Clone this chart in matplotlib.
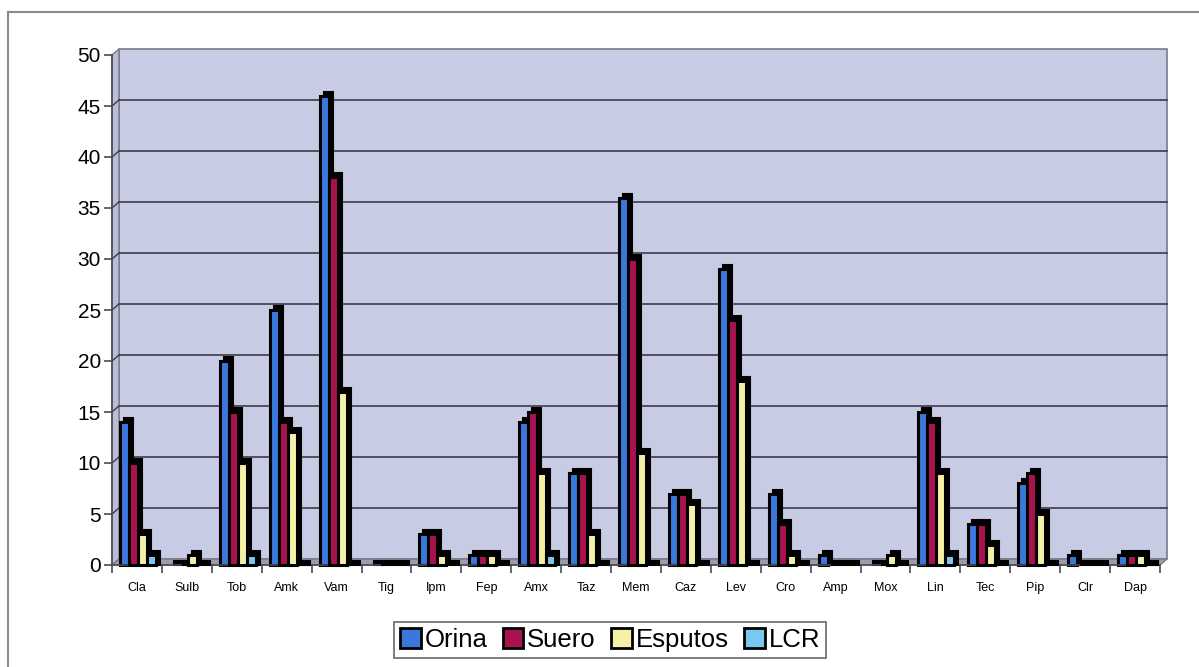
import numpy as np
import matplotlib
matplotlib.use("Agg")
import matplotlib.pyplot as plt
from matplotlib.patches import Rectangle, Polygon
from matplotlib.lines import Line2D
from matplotlib.transforms import IdentityTransform

plt.rcParams['font.family'] = ['Liberation Sans', 'DejaVu Sans']

# antibiotics on the x axis
categories = ["Cla", "Sulb", "Tob", "Amk", "Vam", "Tig", "Ipm", "Fep", "Amx", "Taz", "Mem",
              "Caz", "Lev", "Cro", "Amp", "Mox", "Lin", "Tec", "Pip", "Clr", "Dap"]

orina   = [14, 0, 20, 25, 46, 0, 3, 1, 14, 9, 36, 7, 29, 7, 1, 0, 15, 4, 8, 1, 1]
suero   = [10, 0, 15, 14, 38, 0, 3, 1, 15, 9, 30, 7, 24, 4, 0, 0, 14, 4, 9, 0, 1]
esputos = [3, 1, 10, 13, 17, 0, 1, 1, 9, 3, 11, 6, 18, 1, 0, 1, 9, 2, 5, 0, 1]
lcr     = [1, 0, 1, 0, 0, 0, 0, 0, 1, 0, 0, 0, 0, 0, 0, 0, 1, 0, 0, 0, 0]

series_names = ["Orina", "Suero", "Esputos", "LCR"]
series_vals = [orina, suero, esputos, lcr]
colors = ["#3a78dc", "#a8124e", "#f4f0a8", "#78c8f0"]

W, H = 1199, 667
fig = plt.figure(figsize=(W / 100, H / 100), dpi=100)

# front frame of the plot, in pixels (from top-left)
x0, x1 = 112, 1160
ytop, ybot = 55, 565
ax = fig.add_axes([x0 / W, (H - ybot) / H, (x1 - x0) / W, (ybot - ytop) / H])
ax.set_facecolor("none")
ax.set_xlim(-0.5, len(categories) - 0.5)
ax.set_ylim(0, 50)

dx, dy = 7, 6   # depth of the 3d walls, pixels
ident = IdentityTransform()
bx0, bx1 = x0, x1
by0, by1 = H - ybot, H - ytop
wall_col = "#c7cbe3"

# back wall
ax.add_patch(Polygon([(bx0 + dx, by0 + dy), (bx1 + dx, by0 + dy), (bx1 + dx, by1 + dy), (bx0 + dx, by1 + dy)],
                     closed=True, transform=ident, facecolor=wall_col, edgecolor="#7a7a88",
                     lw=1.2, clip_on=False, zorder=0))
# side wall
ax.add_patch(Polygon([(bx0, by0), (bx0 + dx, by0 + dy), (bx0 + dx, by1 + dy), (bx0, by1)],
                     closed=True, transform=ident, facecolor="#b9bdd6", edgecolor="#7a7a88",
                     lw=1.0, clip_on=False, zorder=0.1))
# floor
ax.add_patch(Polygon([(bx0, by0), (bx1, by0), (bx1 + dx, by0 + dy), (bx0 + dx, by0 + dy)],
                     closed=True, transform=ident, facecolor="#9c9caa", edgecolor="#7a7a88",
                     lw=1.0, clip_on=False, zorder=0.1))

# gridlines on back wall
for yv in range(5, 50, 5):
    py = by0 + (by1 - by0) * yv / 50 + dy
    ax.add_line(Line2D([bx0 + dx, bx1 + dx], [py, py], transform=ident, color="#3c3c4a",
                       lw=1.2, clip_on=False, zorder=0.2))
    ax.add_line(Line2D([bx0, bx0 + dx], [py - dy, py], transform=ident, color="#3c3c4a",
                       lw=1.0, clip_on=False, zorder=0.2))

x = np.arange(len(categories))
bw = 0.18
start = -0.5 + 0.16
sx = 4 / 49.9      # shadow offset in category units
sy = 4 / 10.2      # shadow offset in value units
for j, (vals, c) in enumerate(zip(series_vals, colors)):
    left = x + start + j * bw
    for xi, v in zip(left, vals):
        ax.add_patch(Rectangle((xi + sx, 0), bw, v + sy, facecolor="black", edgecolor="black",
                               lw=1.5, zorder=2 + j, clip_on=False))
        if v > 0:
            ax.add_patch(Rectangle((xi, 0), bw, v, facecolor=c, edgecolor="black",
                                   lw=2.2, zorder=2 + j + 0.5, clip_on=False))

for s in ["top", "right"]:
    ax.spines[s].set_visible(False)
ax.spines["left"].set_color("#4a4a58")
ax.spines["bottom"].set_color("#4a4a58")
ax.spines["left"].set_linewidth(1.2)
ax.spines["bottom"].set_linewidth(1.2)

ax.set_yticks(range(0, 51, 5))
ax.tick_params(axis="y", labelsize=15, length=6, width=1.2, color="#4a4a58", pad=2)
ax.set_xticks(np.arange(-0.5, len(categories), 1.0))
ax.set_xticklabels([])
ax.tick_params(axis="x", which="major", length=6, width=1.2, color="#4a4a58")
ax.set_xticks(x, minor=True)
ax.set_xticklabels(categories, minor=True, fontsize=9)
ax.tick_params(axis="x", which="minor", length=0, pad=12)

handles = [Rectangle((0, 0), 1, 1, facecolor=c, edgecolor="black", lw=2) for c in colors]
leg = fig.legend(handles, series_names, loc="center", bbox_to_anchor=(610 / W, 27 / H),
                 ncol=4, fontsize=18.5, frameon=True, fancybox=False, handlelength=0.8,
                 handleheight=0.8, handletextpad=0.15, columnspacing=0.6, borderpad=0.25,
                 borderaxespad=0)
leg.get_frame().set_edgecolor("#404048")
leg.get_frame().set_linewidth(1.2)

# outer chart border
fig.add_artist(Line2D([8 / W, 1], [(H - 12) / H, (H - 12) / H], transform=fig.transFigure,
                      color="#8a8a96", lw=1.5))
fig.add_artist(Line2D([8 / W, 8 / W], [0, (H - 12) / H], transform=fig.transFigure,
                      color="#8a8a96", lw=1.5))

fig.savefig("out.png", dpi=100, facecolor="white")
